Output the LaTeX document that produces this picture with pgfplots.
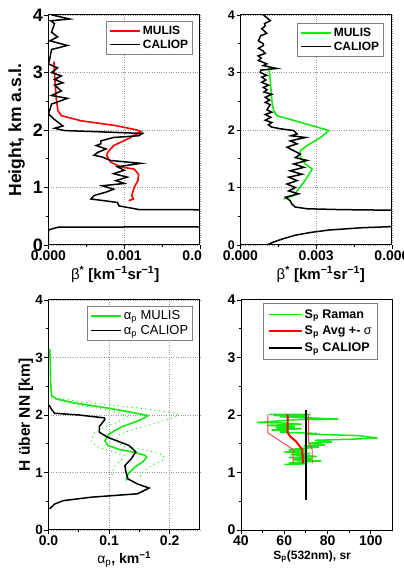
\documentclass[border=0pt]{standalone}
\usepackage{fontspec}
\setmainfont{Liberation Sans}
\usepackage{pgfplots}
\pgfplotsset{compat=1.18}

\definecolor{mgreen}{RGB}{20,235,20}

\pgfplotsset{
  panel/.style={
    scale only axis, width=151.5pt, height=230pt, anchor=south west,
    ymin=0, ymax=4, ytick={0,1,2,3,4},
    minor x tick num=1, minor y tick num=1,
    tick pos=left, tick align=outside,
    major tick length=4pt, minor tick length=2.5pt,
    axis line style={line width=1pt},
    every tick/.style={black, line width=0.9pt},
    /pgf/number format/assume math mode=true,
    scaled x ticks=false,
    grid style={dotted, gray!80, line width=0.6pt},
    xticklabel style={font=\bfseries\fontsize{14}{14}\selectfont, inner ysep=1.5pt},
    yticklabel style={inner xsep=1.5pt},
    legend cell align=left,
    legend style={draw=gray, line width=0.6pt, anchor=north east,
      font=\bfseries\fontsize{12}{13}\selectfont, inner sep=2.5pt},
    legend image code/.code={\draw[##1] (0pt,0pt) -- (30pt,0pt);},
  }
}

\begin{document}
\begin{tikzpicture}
\useasboundingbox (0,0) rectangle (404pt,571pt);

% top left: MULIS red vs CALIOP
\begin{axis}[panel, at={(48.5pt,326pt)},
  xmin=0, xmax=0.002, xtick={0,0.001,0.002},
  xticklabels={0.000,0.001,0.0\phantom{02}},
  grid=major,
  yticklabel style={font=\bfseries\fontsize{18}{18}\selectfont},
  ylabel={Height, km a.s.l.},
  ylabel style={font=\bfseries\fontsize{17.5}{18}\selectfont, at={(axis description cs:-0.21,0.5)}, anchor=center},
  xlabel={{\mdseries β}\textsuperscript{*} [km\textsuperscript{−1}sr\textsuperscript{−1}]},
  xlabel style={font=\bfseries\fontsize{15}{16}\selectfont, at={(axis description cs:0.44,-0.128)}, anchor=center},
  legend style={at={(axis description cs:0.954,0.974)}},
]
\addplot[red, line width=1.6pt] coordinates {
(0.000072,3.19) (0.00008,2.97) (0.0001,2.57) (0.000124,2.34) (0.000168,2.25)
(0.00043,2.16) (0.00087,2.08) (0.00117,2.00) (0.00122,1.97) (0.00104,1.84)
(0.00086,1.73) (0.00078,1.61) (0.00077,1.55) (0.00082,1.44) (0.00095,1.36)
(0.00113,1.32) (0.00119,1.23) (0.00118,1.12) (0.00113,1.00) (0.0011,0.86)
(0.00112,0.80) (0.00106,0.77)};
\addlegendentry{MULIS}
\addplot[black, line width=1.5pt] coordinates {
(0.00005,4.00) (0.00028,3.93) (0.00003,3.90) (0.00008,3.85) (0.00004,3.70)
(0.00012,3.62) (0.00002,3.55) (0.00025,3.47) (0.00004,3.40) (0.00002,3.26)
(0.0,3.15) (0.00012,3.08) (0.00004,3.00) (0.00017,2.94) (0.00008,2.88)
(0.00019,2.82) (0.00008,2.78) (0.00017,2.68) (0.00004,2.60) (0.00025,2.55)
(0.00004,2.45) (0.00002,2.36) (0.0,2.28) (0.00008,2.18) (0.00019,2.07)
(0.00008,2.03) (0.00021,1.99) (0.00065,1.97) (0.00124,1.94) (0.00119,1.90)
(0.00086,1.87) (0.00069,1.81) (0.00069,1.76) (0.00063,1.73) (0.00076,1.67)
(0.00065,1.61) (0.00060,1.56) (0.00071,1.53) (0.00082,1.47) (0.00122,1.42)
(0.00091,1.36) (0.0010,1.30) (0.00086,1.24) (0.00104,1.18) (0.00089,1.12)
(0.0010,1.07) (0.00071,1.03) (0.00086,0.97) (0.00076,0.92) (0.0006,0.86)
(0.00056,0.80) (0.00091,0.74) (0.00093,0.68) (0.0011,0.64) (0.0012,0.615)
(0.0030,0.61) (0.0030,0.32) (0.00013,0.31) (0.00002,0.27) (0.0,0.25) (0.0,0.0)};
\addlegendentry{CALIOP}
\end{axis}

% top right: MULIS green vs CALIOP
\begin{axis}[panel, at={(240.5pt,326pt)},
  xmin=0, xmax=0.006, xtick={0,0.003,0.006},
  xticklabels={0.000,0.003,0.006},
  grid=major,
  yticklabel style={font=\bfseries\fontsize{12.5}{13}\selectfont},
  xlabel={{\mdseries β}\textsuperscript{*} [km\textsuperscript{−1}sr\textsuperscript{−1}]},
  xlabel style={font=\bfseries\fontsize{15}{16}\selectfont, at={(axis description cs:0.53,-0.128)}, anchor=center},
  legend style={at={(axis description cs:0.947,0.965)}},
]
\addplot[mgreen, line width=1.6pt] coordinates {
(0.00111,3.12) (0.00118,2.86) (0.00124,2.51) (0.00131,2.34) (0.00144,2.25)
(0.00264,2.10) (0.00350,1.99) (0.00317,1.87) (0.00264,1.73) (0.00237,1.64)
(0.00237,1.52) (0.00257,1.41) (0.00284,1.32) (0.00271,1.23) (0.00251,1.09)
(0.00224,0.94) (0.00211,0.86) (0.00171,0.80)};
\addlegendentry{MULIS}
\addplot[black, line width=1.5pt] coordinates {
(0.00091,4.00) (0.00105,3.95) (0.00118,3.90) (0.00095,3.85) (0.00098,3.81)
(0.00084,3.76) (0.00092,3.73) (0.00104,3.68) (0.00080,3.64) (0.00071,3.55)
(0.00090,3.50) (0.00091,3.47) (0.00071,3.42) (0.00088,3.38) (0.00098,3.33)
(0.00070,3.29) (0.00082,3.25) (0.00071,3.21) (0.00104,3.15) (0.00090,3.12)
(0.00144,3.07) (0.00080,3.04) (0.00078,3.00) (0.00104,2.95) (0.00084,2.92)
(0.00100,2.87) (0.00084,2.83) (0.00111,2.78) (0.00091,2.74) (0.00105,2.70)
(0.00093,2.66) (0.00124,2.62) (0.00098,2.57) (0.00115,2.52) (0.00098,2.48)
(0.00118,2.44) (0.00110,2.39) (0.00105,2.35) (0.00124,2.31) (0.00098,2.27)
(0.00120,2.22) (0.00098,2.17) (0.00124,2.13) (0.00110,2.09) (0.00124,2.05)
(0.00160,2.02) (0.00211,1.99) (0.00224,1.93) (0.00200,1.90) (0.00257,1.87)
(0.00197,1.81) (0.00224,1.76) (0.00184,1.70) (0.00211,1.64) (0.00237,1.58)
(0.00217,1.52) (0.00264,1.47) (0.00211,1.41) (0.00251,1.35) (0.00197,1.29)
(0.00244,1.23) (0.00191,1.18) (0.00224,1.12) (0.00184,1.06) (0.00217,1.00)
(0.00191,0.94) (0.00230,0.89) (0.00178,0.83) (0.00197,0.77) (0.00204,0.71)
(0.00217,0.66) (0.00264,0.63) (0.0040,0.615) (0.0070,0.60)};
\addlegendentry{CALIOP}
\addplot[black, line width=1.5pt, forget plot] coordinates {
(0.0070,0.33) (0.0060,0.32) (0.0048,0.30) (0.0035,0.26) (0.0028,0.22)
(0.00217,0.17) (0.0017,0.11) (0.0013,0.05) (0.00104,0.0)};
\end{axis}

% bottom left: extinction
\begin{axis}[panel, at={(48.5pt,41pt)},
  xmin=0, xmax=0.25, xtick={0,0.1,0.2},
  xticklabels={0.0,0.1,0.2},
  grid=major,
  yticklabel style={font=\bfseries\fontsize{13.5}{14}\selectfont},
  ylabel={H über NN [km]},
  ylabel style={font=\bfseries\fontsize{15.5}{16}\selectfont, at={(axis description cs:-0.15,0.5)}, anchor=center},
  xlabel={{\mdseries α\textsubscript{p}}, km\textsuperscript{−1}},
  xlabel style={font=\bfseries\fontsize{14}{15}\selectfont, at={(axis description cs:0.5,-0.128)}, anchor=center},
  legend style={at={(axis description cs:0.954,0.974)}, font=\fontsize{13}{14}\selectfont},
]
\addplot[mgreen, line width=1.6pt] coordinates {
(0.002,3.15) (0.003,2.90) (0.0036,2.57) (0.005,2.34) (0.013,2.28)
(0.043,2.21) (0.080,2.15) (0.109,2.10) (0.140,2.04) (0.164,1.99)
(0.158,1.95) (0.148,1.90) (0.120,1.79) (0.100,1.67) (0.093,1.55)
(0.098,1.47) (0.117,1.40) (0.142,1.35) (0.159,1.30) (0.162,1.26)
(0.155,1.18) (0.142,1.09) (0.131,0.97) (0.128,0.86)};
\addlegendentry{α\textsubscript{p} MULIS}
\addplot[black, line width=1.5pt] coordinates {
(0.001,2.17) (0.005,2.10) (0.010,2.03) (0.050,2.00) (0.092,1.95)
(0.093,1.92) (0.084,1.80) (0.084,1.70) (0.098,1.61) (0.133,1.47)
(0.144,1.36) (0.136,1.23) (0.126,1.12) (0.128,1.00) (0.131,0.89)
(0.147,0.80) (0.166,0.73) (0.147,0.63) (0.070,0.57) (0.024,0.51)
(0.010,0.45) (0.002,0.37)};
\addlegendentry{α\textsubscript{p} CALIOP}
\addplot[mgreen, line width=1.3pt, dash pattern=on 0.1pt off 4.5pt, line cap=round, forget plot] coordinates {
(0.010,2.30) (0.060,2.22) (0.150,2.12) (0.200,2.05) (0.215,2.00)
(0.205,1.95) (0.175,1.85) (0.140,1.75) (0.115,1.65) (0.110,1.55)
(0.125,1.45) (0.165,1.38) (0.190,1.30) (0.190,1.22) (0.170,1.12)
(0.155,1.00) (0.150,0.90)};
\addplot[mgreen, line width=1.3pt, dash pattern=on 0.1pt off 4.5pt, line cap=round, forget plot] coordinates {
(0.005,2.30) (0.030,2.22) (0.080,2.12) (0.120,2.03) (0.130,1.97)
(0.115,1.88) (0.090,1.78) (0.075,1.68) (0.070,1.55) (0.080,1.45)
(0.100,1.38) (0.125,1.30) (0.120,1.22) (0.110,1.12) (0.105,1.00)
(0.105,0.90)};
\end{axis}

% bottom right: lidar ratio
\begin{axis}[panel, at={(241pt,41pt)},
  xmin=40, xmax=110, xtick={40,60,80,100},
  yticklabel style={font=\bfseries\fontsize{14}{14}\selectfont},
  xlabel={S\textsubscript{p}(532nm), sr},
  xlabel style={font=\bfseries\fontsize{12}{13}\selectfont, at={(axis description cs:0.47,-0.115)}, anchor=center},
  legend style={at={(axis description cs:0.904,0.987)}, font=\bfseries\fontsize{12.5}{17}\selectfont, inner sep=4pt, row sep=2.5pt},
  legend image code/.code={\draw[#1] (0pt,0pt) -- (33pt,0pt);},
]
\addplot[mgreen, line width=1.5pt] coordinates {
(53,2.01) (72,2.01) (55,1.99) (70,1.98) (58,1.97) (85,1.93) (66,1.92)
(47.5,1.87) (60,1.86) (68,1.84) (52,1.82) (65,1.80) (56,1.78) (68,1.76)
(54,1.74) (62,1.72) (58,1.70) (75,1.68) (70,1.67) (95,1.64) (103,1.60)
(92,1.58) (74,1.56) (82,1.53) (71,1.51) (79,1.48) (69,1.46) (76,1.44)
(62,1.40) (70,1.38) (60,1.36) (72,1.33) (63,1.31) (75,1.28) (62,1.26)
(73,1.24) (64,1.22) (77,1.20) (62,1.17) (70,1.15) (60,1.14)};
\addlegendentry{S\textsubscript{p} Raman}
\addplot[red, line width=2pt] coordinates {
(61.6,2.01) (61.6,1.69) (62.9,1.62) (65.2,1.55) (68.3,1.40) (68.6,1.16)};
\addlegendentry{S\textsubscript{p} Avg +- {\mdseries σ}}
\addplot[black, line width=1.5pt] coordinates {(70,2.09) (70,0.53)};
\addlegendentry{S\textsubscript{p} CALIOP}
\addplot[red!75, line width=0.9pt, forget plot] coordinates {
(52.4,2.01) (52.4,1.69) (64.1,1.40) (64.1,1.16)};
\addplot[red!75, line width=0.9pt, forget plot] coordinates {
(71.1,2.01) (71.1,1.55) (72.9,1.40) (72.9,1.16)};
\end{axis}
\end{tikzpicture}
\end{document}
